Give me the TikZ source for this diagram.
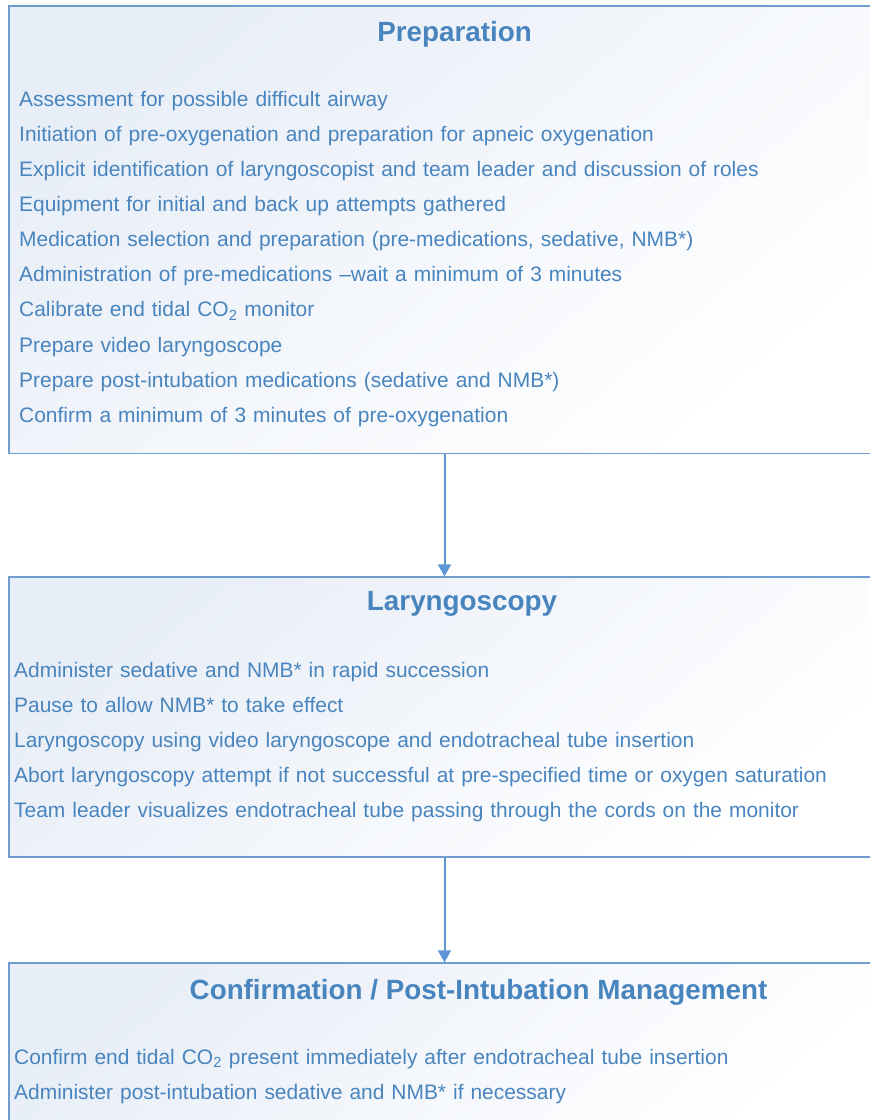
\documentclass[tikz,border=0pt]{standalone}
\usepackage{fontspec}
\setmainfont{Liberation Sans}
\usepackage{tikz}
\usetikzlibrary{positioning,arrows.meta}

\definecolor{txtblue}{RGB}{72,132,190}
\definecolor{lineblue}{RGB}{112,156,208}
\definecolor{arrowblue}{RGB}{92,150,212}
\definecolor{boxfill}{RGB}{232,238,247}

\tikzset{node distance=35.15pt, auto,
  box/.style={draw=lineblue, line width=1.3pt, top color=boxfill, bottom color=white,
    shading angle=40, inner sep=0pt},
  title/.style={font=\fontsize{27.8}{30}\selectfont\bfseries, text=txtblue, inner sep=0pt, anchor=base},
  item/.style={font=\fontsize{20.95}{24}\selectfont, text=txtblue, inner sep=0pt,
    text width=840pt, align=left, text height=15pt, text depth=4.5pt},
  flow/.style={draw=arrowblue, line width=2pt, -{Triangle[length=12pt,width=13pt]}}}

\begin{document}
\begin{tikzpicture}[x=1pt, y=-1pt]

  \useasboundingbox (0,0) rectangle (870,1120);
  \clip (0,0) rectangle (870,1120);

  % boxes
  \node (prep)  [box, minimum width=871pt, minimum height=447.5pt] at (444.5,229.75) {};
  \node (laryn) [box, minimum width=871pt, minimum height=280pt]   at (444.5,717) {};
  \node (conf)  [box, minimum width=871pt, minimum height=180pt]   at (444.5,1053) {};

  % titles
  \node (preptitle)  [title] at (454.5,41.7) {Preparation};
  \node (laryntitle) [title] at (462,610.7) {Laryngoscopy};
  \node (conftitle)  [title] at (478.5,999.5) {Confirmation / Post-Intubation Management};

  % preparation
  \node (p1) [item, anchor=base west] at (19,106) {Assessment for possible difficult airway};
  \node (p2) [item, below of=p1] {Initiation of pre-oxygenation and preparation for apneic oxygenation};
  \node (p3) [item, below of=p2] {Explicit identification of laryngoscopist and team leader and discussion of roles};
  \node (p4) [item, below of=p3] {Equipment for initial and back up attempts gathered};
  \node (p5) [item, below of=p4] {Medication selection and preparation (pre-medications, sedative, NMB*)};
  \node (p6) [item, below of=p5] {Administration of pre-medications --wait a minimum of 3 minutes};
  \node (p7) [item, below of=p6] {Calibrate end tidal CO\textsubscript{2} monitor};
  \node (p8) [item, below of=p7] {Prepare video laryngoscope};
  \node (p9) [item, below of=p8] {Prepare post-intubation medications (sedative and NMB*)};
  \node (p10) [item, below of=p9] {Confirm a minimum of 3 minutes of pre-oxygenation};

  % laryngoscopy
  \node (l1) [item, anchor=base west] at (14,677) {Administer sedative and NMB* in rapid succession};
  \node (l2) [item, below of=l1] {Pause to allow NMB* to take effect};
  \node (l3) [item, below of=l2] {Laryngoscopy using video laryngoscope and endotracheal tube insertion};
  \node (l4) [item, below of=l3] {Abort laryngoscopy attempt if not successful at pre-specified time or oxygen saturation};
  \node (l5) [item, below of=l4] {Team leader visualizes endotracheal tube passing through the cords on the monitor};

  % confirmation
  \node (c1) [item, anchor=base west] at (14,1064) {Confirm end tidal CO\textsubscript{2} present immediately after endotracheal tube insertion};
  \node (c2) [item, below of=c1] {Administer post-intubation sedative and NMB* if necessary};

  \draw [flow] (prep) to (laryn);
  \draw [flow] (laryn) to (conf);

\end{tikzpicture}
\end{document}
